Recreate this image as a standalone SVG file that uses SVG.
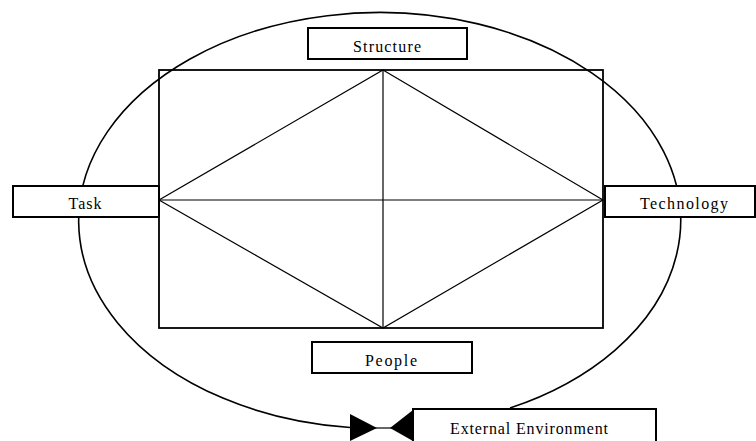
<svg xmlns="http://www.w3.org/2000/svg" width="756" height="441" viewBox="0 0 756 441">
<style>
.box{fill:#fff;stroke:#000;stroke-width:2}
.lbl{font-size:16px;fill:#000;text-anchor:middle}
.thin{stroke:#000;stroke-width:1.2;fill:none}
.frame{stroke:#000;stroke-width:1.8;fill:none}
.env{stroke:#000;stroke-width:1.6;fill:none}
</style>
<rect width="756" height="441" fill="#fff"/>
<g id="connectors">
<path class="env" d="M510,408 A301,208 0 1 0 350,427.5"/>
<rect class="frame" x="159" y="70" width="444" height="258"/>
<line class="thin" x1="383" y1="70" x2="383" y2="328"/>
<line class="thin" x1="159" y1="200" x2="603" y2="200"/>
<polygon class="thin" points="383,70 603,200 383,328 159,200"/>
<line class="thin" x1="375" y1="428" x2="392" y2="428"/>
<polygon points="350,414 350,441 377,428" fill="#000"/>
<polygon points="413,410 413,441 390,428" fill="#000"/>
</g>
<g id="structure" font-family="'Liberation Serif', 'DejaVu Serif', serif">
<rect class="box" x="308" y="28" width="159" height="31"/>
<text class="lbl" x="387" y="52" textLength="68" lengthAdjust="spacing">Structure</text>
</g>
<g id="task" font-family="'Liberation Serif', 'DejaVu Serif', serif">
<rect class="box" x="13" y="186" width="146" height="31"/>
<text class="lbl" x="85" y="209" textLength="33" lengthAdjust="spacing">Task</text>
</g>
<g id="technology" font-family="'Liberation Serif', 'DejaVu Serif', serif">
<rect class="box" x="605" y="186" width="150" height="31"/>
<text class="lbl" x="684" y="209" textLength="88" lengthAdjust="spacing">Technology</text>
</g>
<g id="people" font-family="'Liberation Serif', 'DejaVu Serif', serif">
<rect class="box" x="312" y="342" width="160" height="31"/>
<text class="lbl" x="391" y="366" textLength="52" lengthAdjust="spacing">People</text>
</g>
<g id="external-environment" font-family="'Liberation Serif', 'DejaVu Serif', serif">
<rect class="box" x="413" y="409" width="243" height="33"/>
<text class="lbl" x="529" y="434" textLength="158" lengthAdjust="spacing">External Environment</text>
</g>
</svg>
